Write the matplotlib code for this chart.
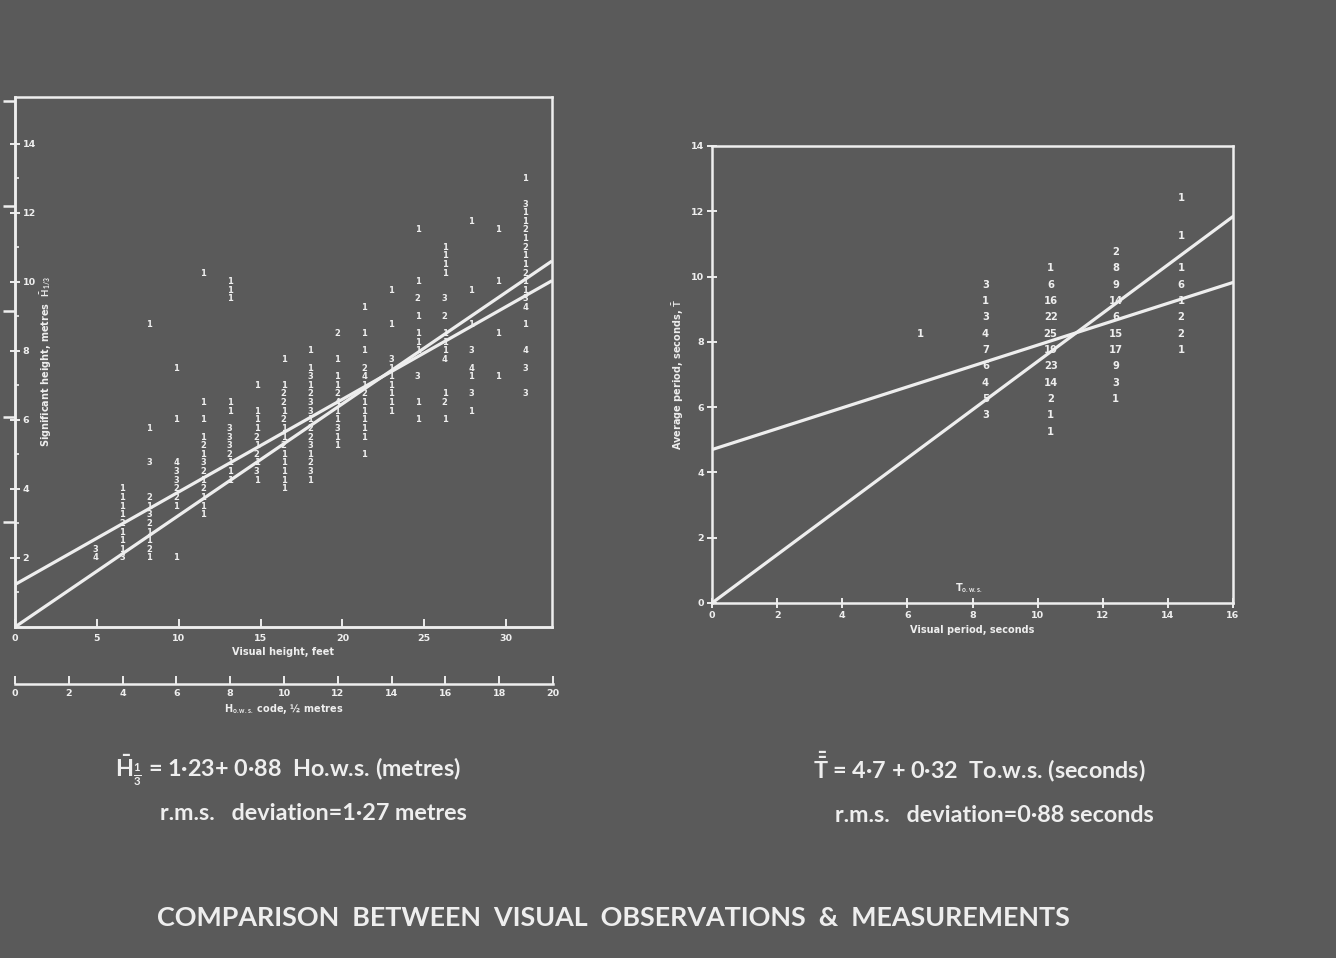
import matplotlib
matplotlib.use("Agg")
import matplotlib.pyplot as plt
import numpy as np

plt.rcParams["mathtext.fontset"] = "custom"
plt.rcParams["mathtext.rm"] = "Lato:bold"
plt.rcParams["mathtext.it"] = "Lato:bold"
plt.rcParams["mathtext.bf"] = "Lato:bold"

BG = "#5a5a5a"
FG = "#eeeeee"

# ---------------- wave height: visual code (half metres) vs measured H1/3 (m)
height_codes = [3, 4, 5, 6, 7, 8, 9, 10, 11, 12, 13, 14, 15, 16, 17, 18, 19]
height_obs = [
    [2.25, 2.0],
    [4.0, 3.75, 3.5, 3.25, 3.0, 2.75, 2.5, 2.25, 2.0],
    [8.75, 5.75, 4.75, 3.75, 3.5, 3.25, 3.0, 2.75, 2.5, 2.25, 2.0],
    [7.5, 6.0, 4.75, 4.5, 4.25, 4.0, 3.75, 3.5, 2.0],
    [10.25, 6.5, 6.0, 5.5, 5.25, 5.0, 4.75, 4.5, 4.25, 4.0, 3.75, 3.5, 3.25],
    [10.0, 9.75, 9.5, 6.5, 6.25, 5.75, 5.5, 5.25, 5.0, 4.75, 4.5, 4.25],
    [7.0, 6.25, 6.0, 5.75, 5.5, 5.25, 5.0, 4.75, 4.5, 4.25],
    [7.75, 7.0, 6.75, 6.5, 6.25, 6.0, 5.75, 5.5, 5.25, 5.0, 4.75, 4.5, 4.25, 4.0],
    [8.0, 7.5, 7.25, 7.0, 6.75, 6.5, 6.25, 6.0, 5.75, 5.5, 5.25, 5.0, 4.75, 4.5, 4.25],
    [8.5, 7.75, 7.25, 7.0, 6.75, 6.5, 6.25, 6.0, 5.75, 5.5, 5.25],
    [9.25, 8.5, 8.0, 7.5, 7.25, 7.0, 6.75, 6.5, 6.25, 6.0, 5.75, 5.5, 5.0],
    [9.75, 8.75, 7.75, 7.5, 7.25, 7.0, 6.75, 6.5, 6.25],
    [11.5, 10.0, 9.5, 9.0, 8.5, 8.25, 8.0, 7.25, 6.5, 6.0],
    [11.0, 10.75, 10.5, 10.25, 9.5, 9.0, 8.5, 8.25, 8.0, 7.75, 6.75, 6.5, 6.0],
    [11.75, 9.75, 8.75, 8.0, 7.5, 7.25, 6.75, 6.25],
    [11.5, 10.0, 8.5, 7.25],
    [13.0, 12.25, 12.0, 11.75, 11.5, 11.25, 11.0, 10.75, 10.5, 10.25, 10.0,
     9.75, 9.5, 9.25, 8.75, 8.0, 7.5, 6.75],
]
height_counts = [
    [3, 4],
    [1, 1, 1, 1, 2, 1, 1, 1, 3],
    [1, 1, 3, 2, 1, 3, 2, 1, 1, 2, 1],
    [1, 1, 4, 3, 3, 2, 2, 1, 1],
    [1, 1, 1, 1, 2, 1, 3, 2, 1, 2, 1, 1, 1],
    [1, 1, 1, 1, 1, 3, 3, 3, 2, 1, 1, 1],
    [1, 1, 1, 1, 2, 1, 2, 1, 3, 1],
    [1, 1, 2, 2, 1, 2, 1, 1, 2, 1, 1, 1, 1, 1],
    [1, 1, 3, 1, 2, 3, 3, 1, 2, 2, 3, 1, 2, 3, 1],
    [2, 1, 1, 1, 2, 4, 1, 1, 3, 1, 1],
    [1, 1, 1, 2, 4, 1, 2, 1, 1, 1, 1, 1, 1],
    [1, 1, 3, 1, 1, 1, 1, 1, 1],
    [1, 1, 2, 1, 1, 1, 1, 3, 1, 1],
    [1, 1, 1, 1, 3, 2, 1, 1, 1, 4, 1, 2, 1],
    [1, 1, 1, 3, 4, 1, 3, 1],
    [1, 1, 1, 1],
    [1, 3, 1, 1, 2, 1, 2, 1, 1, 2, 1, 1, 3, 4, 1, 4, 3, 3],
]
height_fit_intercept = 1.23
height_fit_slope = 0.88
height_origin_slope = 1.06

feet_ticks = [0, 5, 10, 15, 20, 25, 30]
code_ticks = [0, 2, 4, 6, 8, 10, 12, 14, 16, 18, 20]
height_ticks = [2, 4, 6, 8, 10, 12, 14]

# ---------------- wave period: visual period (s) vs measured mean period (s)
period_cols = [6.4, 8.4, 10.4, 12.4, 14.4]
period_obs = [
    [8.25],
    [9.75, 9.25, 8.75, 8.25, 7.75, 7.25, 6.75, 6.25, 5.75],
    [10.25, 9.75, 9.25, 8.75, 8.25, 7.75, 7.25, 6.75, 6.25, 5.75, 5.25],
    [10.75, 10.25, 9.75, 9.25, 8.75, 8.25, 7.75, 7.25, 6.75, 6.25],
    [12.4, 11.25, 10.25, 9.75, 9.25, 8.75, 8.25, 7.75],
]
period_counts = [
    [1],
    [3, 1, 3, 4, 7, 6, 4, 5, 3],
    [1, 6, 16, 22, 25, 19, 23, 14, 2, 1, 1],
    [2, 8, 9, 14, 6, 15, 17, 9, 3, 1],
    [1, 1, 1, 6, 1, 2, 2, 1],
]
period_fit_intercept = 4.7
period_fit_slope = 0.32
period_origin_slope = 0.74

period_x_ticks = [0, 2, 4, 6, 8, 10, 12, 14, 16]
period_y_ticks = [0, 2, 4, 6, 8, 10, 12, 14]

M_PER_CODE = 0.5
FT_PER_M = 1 / 0.3048

W, H = 1336, 958
fig = plt.figure(figsize=(W / 100, H / 100), dpi=100, facecolor=BG)


def rect(x0, y0, x1, y1):
    return [x0 / W, 1 - y1 / H, (x1 - x0) / W, (y1 - y0) / H]


def style_spines(ax, lw=1.8):
    for s in ax.spines.values():
        s.set_color(FG)
        s.set_linewidth(lw)


def draw_counts(ax, xs, vals, counts, size):
    for x, vlist, clist in zip(xs, vals, counts):
        for v, c in zip(vlist, clist):
            ax.text(x, v, str(c), ha="center", va="center", fontsize=size,
                    fontweight="bold", color=FG, family="DejaVu Sans",
                    clip_on=True)


tick_font = dict(fontsize=6.8, fontweight="bold", color=FG, family="DejaVu Sans")
label_font = dict(fontsize=7, fontweight="bold", color=FG, family="DejaVu Sans")

# ======================= left panel: heights =======================
ax1 = fig.add_axes(rect(15, 97, 552, 627))
ax1.set_facecolor(BG)
style_spines(ax1)
ax1.set_xlim(0, 20)
ax1.set_ylim(0, 15.35)
ax1.set_xticks([])

xs = np.array([0, 20.0])
ax1.plot(xs, height_fit_intercept + height_fit_slope * xs * M_PER_CODE,
         color=FG, lw=2.3, solid_capstyle="butt")
ax1.plot(xs, height_origin_slope * xs * M_PER_CODE,
         color=FG, lw=2.3, solid_capstyle="butt")
draw_counts(ax1, height_codes, height_obs, height_counts, 6.0)

ax1.set_yticks(height_ticks)
ax1.set_yticklabels([str(t) for t in height_ticks], **tick_font)
ax1.set_yticks(np.arange(1, 15, 2), minor=True)
ax1.tick_params(axis="y", which="major", direction="inout", length=7,
                width=1.4, color=FG, pad=-9)
ax1.tick_params(axis="y", which="minor", direction="in", length=3,
                width=1.2, color=FG)
for lbl in ax1.get_yticklabels():
    lbl.set_horizontalalignment("left")

# feet graduations on the outside of the height axis
feet_y = ax1.secondary_yaxis("left", functions=(lambda m: m * FT_PER_M,
                                                lambda f: f / FT_PER_M))
feet_y.set_yticks([10, 20, 30, 40, 50])
feet_y.set_yticklabels([])
feet_y.tick_params(direction="out", length=9, width=1.8, color=FG)
feet_y.spines["left"].set_color(FG)
feet_y.spines["left"].set_linewidth(1.8)

ax1.text(0.057, 0.5, r"Significant height, metres  $\bar{H}_{1/3}$",
         transform=ax1.transAxes, rotation=90, ha="center", va="center",
         **label_font)

# visual height in feet along the lower edge
feet_x = ax1.secondary_xaxis("bottom", functions=(
    lambda c: c * M_PER_CODE * FT_PER_M, lambda f: f / FT_PER_M / M_PER_CODE))
feet_x.set_xticks(feet_ticks)
feet_x.set_xticklabels([str(t) for t in feet_ticks], **tick_font)
feet_x.tick_params(direction="in", length=6, width=1.4, color=FG, pad=5)
feet_x.spines["bottom"].set_color(FG)
feet_x.spines["bottom"].set_linewidth(1.8)
feet_x.set_xlabel("Visual height, feet", labelpad=3, **label_font)

# observer code scale
axc = fig.add_axes(rect(15, 683, 553, 683.5))
axc.set_facecolor("none")
for side in ("top", "left", "right"):
    axc.spines[side].set_visible(False)
axc.spines["bottom"].set_color(FG)
axc.spines["bottom"].set_linewidth(1.8)
axc.set_xlim(0, 20)
axc.set_yticks([])
axc.set_xticks(code_ticks)
axc.set_xticklabels([str(t) for t in code_ticks], **tick_font)
axc.tick_params(axis="x", direction="in", length=6, width=1.4, color=FG, pad=4)
axc.set_xlabel(r"H$_{\mathrm{o.w.s.}}$ code, ½ metres", labelpad=3, **label_font)

# ======================= right panel: periods =======================
ax2 = fig.add_axes(rect(712, 146, 1233, 603))
ax2.set_facecolor(BG)
style_spines(ax2)
ax2.set_xlim(0, 16)
ax2.set_ylim(0, 14)
xp = np.array([0, 16.0])
ax2.plot(xp, period_fit_intercept + period_fit_slope * xp, color=FG, lw=2.3)
ax2.plot(xp, period_origin_slope * xp, color=FG, lw=2.3)
draw_counts(ax2, period_cols, period_obs, period_counts, 7.2)

ax2.set_xticks(period_x_ticks)
ax2.set_xticklabels([str(t) for t in period_x_ticks], **tick_font)
ax2.set_yticks(period_y_ticks)
ax2.set_yticklabels([str(t) for t in period_y_ticks], **tick_font)
ax2.tick_params(direction="inout", length=7, width=1.4, color=FG, pad=2)
ax2.set_xlabel("Visual period, seconds", labelpad=4, **label_font)
ax2.set_ylabel(r"Average period, seconds, $\bar{T}$", labelpad=4, **label_font)
ax2.text(7.9, 0.45, r"T$_{\mathrm{o.w.s.}}$", ha="center", va="center",
         **label_font)

# ======================= captions =======================
cap = dict(fontsize=16.8, fontweight="bold", color=FG, family="Lato",
           va="center", ha="left")
fig.text(115 / W, 1 - 770 / H,
         r"$\bar{\mathrm{H}}_{\frac{1}{3}}$" + " = 1·23+ 0·88  Ho.w.s. (metres)",
         **cap)
fig.text(160 / W, 1 - 813 / H, "r.m.s.   deviation=1·27 metres", **cap)
fig.text(813 / W, 1 - 767 / H,
         r"$\bar{\bar{\mathrm{T}}}$" + " = 4·7 + 0·32  To.w.s. (seconds)", **cap)
fig.text(835 / W, 1 - 815 / H, "r.m.s.   deviation=0·88 seconds", **cap)

fig.text(157 / W, 1 - 918 / H,
         "COMPARISON  BETWEEN  VISUAL  OBSERVATIONS  &  MEASUREMENTS",
         fontsize=19.4, fontweight="bold", color=FG, family="Lato",
         va="center", ha="left")

fig.savefig("out.png", dpi=100, facecolor=BG)
